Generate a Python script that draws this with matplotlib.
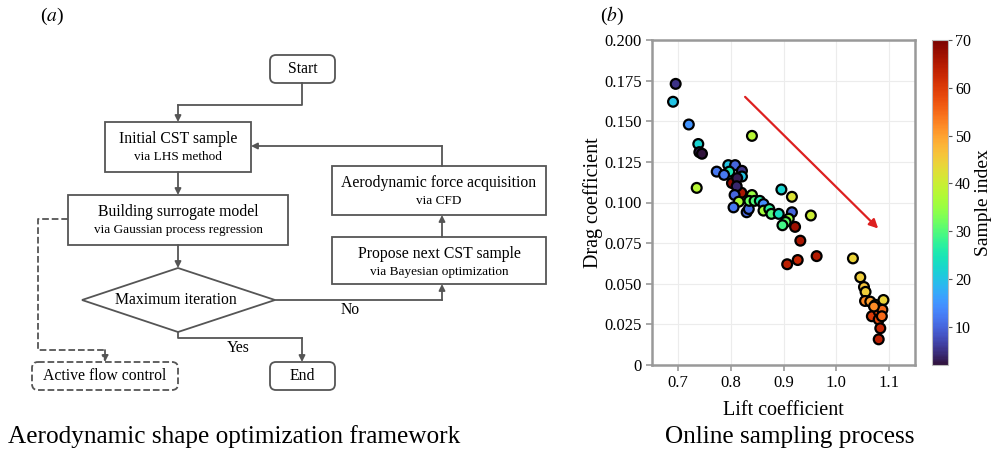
import numpy as np
import matplotlib
matplotlib.use('Agg')
import matplotlib.pyplot as plt
from matplotlib.patches import FancyBboxPatch, Rectangle, Polygon
from matplotlib.ticker import FuncFormatter

plt.rcParams['font.family'] = ['Liberation Serif', 'DejaVu Serif']
plt.rcParams['mathtext.fontset'] = 'stix'

# 数据：升力系数、阻力系数、样本序号
lift = [0.695, 0.690, 0.720, 0.738, 0.740, 0.745, 0.735, 0.840,
        0.773, 0.795, 0.808, 0.797, 0.821, 0.821, 0.787, 0.802, 0.812, 0.820,
        0.811, 0.807, 0.815, 0.805, 0.830, 0.834, 0.840, 0.835, 0.845, 0.855,
        0.862, 0.862, 0.873, 0.877, 0.891, 0.896, 0.916, 0.916, 0.952, 0.910,
        0.904, 0.898, 0.922, 0.932, 0.907, 0.927, 0.963,
        1.032, 1.046, 1.053, 1.056, 1.055, 1.065, 1.075, 1.068, 1.083, 1.090,
        1.081, 1.088, 1.081, 1.084, 1.081, 1.087, 1.072]
drag = [0.173, 0.162, 0.148, 0.136, 0.131, 0.130, 0.109, 0.141,
        0.119, 0.123, 0.123, 0.119, 0.1195, 0.116, 0.117, 0.112, 0.115, 0.106,
        0.110, 0.1046, 0.1005, 0.097, 0.094, 0.096, 0.1046, 0.101, 0.101, 0.101,
        0.099, 0.095, 0.096, 0.093, 0.093, 0.108, 0.1035, 0.094, 0.092, 0.090,
        0.088, 0.086, 0.085, 0.0765, 0.062, 0.0646, 0.067,
        0.0656, 0.054, 0.048, 0.045, 0.0394, 0.039, 0.037, 0.030, 0.035, 0.040,
        0.033, 0.034, 0.028, 0.0226, 0.0158, 0.030, 0.036]
index = [5, 20, 15, 22, 3, 2, 38, 38,
         12, 20, 10, 25, 5, 20, 12, 68, 3, 66,
         4, 10, 37, 12, 10, 11, 35, 32, 30, 26,
         14, 36, 27, 30, 24, 22, 42, 10, 40, 35,
         31, 29, 67, 66, 64, 63, 65,
         44, 45, 46, 45, 52, 50, 53, 60, 47, 44,
         58, 55, 58, 63, 64, 55, 52]

x_ticks = [0.7, 0.8, 0.9, 1.0, 1.1]
y_ticks = [0, 0.025, 0.05, 0.075, 0.1, 0.125, 0.15, 0.175, 0.2]
cbar_ticks = [10, 20, 30, 40, 50, 60, 70]

# 流程图文字
box_main = ['Initial CST sample', 'Building surrogate model',
            'Aerodynamic force acquisition', 'Propose next CST sample']
box_sub = ['via LHS method', 'via Gaussian process regression',
           'via CFD', 'via Bayesian optimization']

fig = plt.figure(figsize=(9.96, 4.55), dpi=100)

# ---------------- (a) 流程图 ----------------
fa = fig.add_axes([0, 0, 1, 1])
fa.set_xlim(0, 996)
fa.set_ylim(455, 0)
fa.axis('off')

ec = '#555555'
lw = 1.3
fs_main = 11.3
fs_sub = 9.5


def rbox(x0, y0, x1, y1, text, ls='-'):
    p = FancyBboxPatch((x0, y0), x1 - x0, y1 - y0, boxstyle='round,pad=0,rounding_size=6',
                       fc='white', ec=ec, lw=lw, ls=ls)
    fa.add_patch(p)
    fa.text((x0 + x1) / 2, (y0 + y1) / 2, text, ha='center', va='center', fontsize=fs_main)


def sbox(x0, y0, x1, y1, main, sub):
    fa.add_patch(Rectangle((x0, y0), x1 - x0, y1 - y0, fc='white', ec=ec, lw=lw))
    cx = (x0 + x1) / 2
    fa.text(cx, y0 + 17, main, ha='center', va='center', fontsize=fs_main)
    fa.text(cx, y0 + 35, sub, ha='center', va='center', fontsize=fs_sub)


def path(pts, ls='-'):
    # 折线 + 最后一段带箭头
    xs = [p[0] for p in pts]
    ys = [p[1] for p in pts]
    if len(pts) > 2:
        fa.plot(xs[:-1], ys[:-1], color=ec, lw=lw, ls=ls)
    fa.annotate('', xy=pts[-1], xytext=pts[-2],
                arrowprops=dict(arrowstyle='-|>', color=ec, lw=lw, ls=ls,
                                mutation_scale=9, shrinkA=0, shrinkB=0))


rbox(270, 55, 335, 83, 'Start')
rbox(270, 362, 335, 390, 'End')
rbox(32, 362, 178, 390, 'Active flow control', ls='--')
sbox(105, 122, 251, 172, box_main[0], box_sub[0])
sbox(68, 195, 288, 245, box_main[1], box_sub[1])
sbox(332, 166, 546, 215, box_main[2], box_sub[2])
sbox(332, 237, 546, 284, box_main[3], box_sub[3])
fa.add_patch(Polygon([(82, 300), (178, 268), (275, 300), (178, 332)], closed=True,
                     fc='white', ec=ec, lw=lw))
fa.text(176, 300, 'Maximum iteration', ha='center', va='center', fontsize=fs_main)

path([(302, 83), (302, 105), (178, 105), (178, 122)])
path([(178, 172), (178, 195)])
path([(178, 245), (178, 268)])
path([(275, 300), (442, 300), (442, 284)])
path([(442, 237), (442, 215)])
path([(442, 166), (442, 146), (251, 146)])
path([(178, 332), (178, 338), (302, 338), (302, 362)])
path([(68, 219), (38, 219), (38, 350), (105, 350), (105, 362)], ls='--')
fa.text(350, 310, 'No', ha='center', va='center', fontsize=fs_main)
fa.text(238, 348, 'Yes', ha='center', va='center', fontsize=fs_main)

fa.text(52, 16, '($\\mathit{a}$)', ha='center', va='center', fontsize=14)
fa.text(612, 16, '($\\mathit{b}$)', ha='center', va='center', fontsize=14)
fa.text(234, 437, 'Aerodynamic shape optimization framework', ha='center', va='center',
        fontsize=18.2)
fa.text(790, 437, 'Online sampling process', ha='center', va='center', fontsize=18.2)

# ---------------- (b) 在线采样散点图 ----------------
ax = fig.add_axes([652 / 996, 90 / 455, 263 / 996, 325 / 455])
sc = ax.scatter(lift, drag, c=index, cmap='turbo', vmin=2, vmax=70, s=50,
                edgecolors='black', linewidths=1.6, zorder=3)
ax.set_xlim(0.65, 1.15)
ax.set_ylim(0, 0.2)
ax.set_xticks(x_ticks)
ax.set_yticks(y_ticks)
ax.xaxis.set_major_formatter(FuncFormatter(lambda v, p: '%.1f' % v))
ax.yaxis.set_major_formatter(FuncFormatter(lambda v, p: '0' if v == 0 else '%.3f' % v))
ax.grid(True, color='#ececec', lw=0.8, zorder=0)
for s in ax.spines.values():
    s.set_color('#999999')
    s.set_linewidth(1.8)
ax.tick_params(labelsize=12, color='#999999', length=4, width=1.2)
ax.set_xlabel('Lift coefficient', fontsize=14.5, labelpad=7)
ax.set_ylabel('Drag coefficient', fontsize=14.5, labelpad=1)
ax.annotate('', xy=(1.08, 0.084), xytext=(0.827, 0.165),
            arrowprops=dict(arrowstyle='-|>', color='#dd2020', lw=1.6, mutation_scale=13,
                            shrinkA=0, shrinkB=0))

cax = fig.add_axes([932 / 996, 90 / 455, 16 / 996, 325 / 455])
cb = fig.colorbar(sc, cax=cax, ticks=cbar_ticks)
cb.outline.set_edgecolor('#bbbbbb')
cb.ax.tick_params(labelsize=11.5, length=3, color='#555555', pad=2)
cb.set_label('Sample index', fontsize=14, labelpad=3)

plt.savefig('out.png', dpi=100)
